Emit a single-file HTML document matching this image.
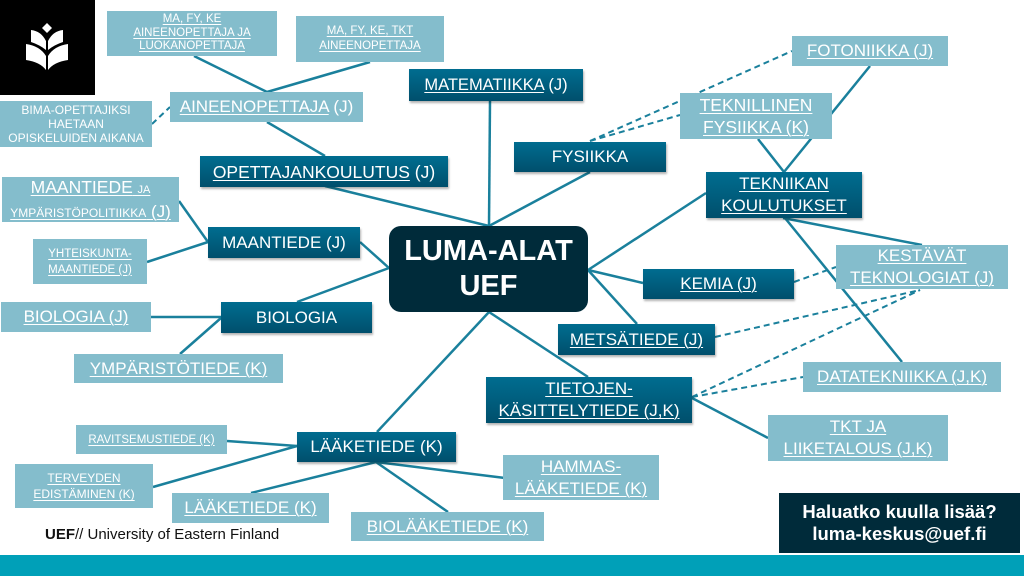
<!DOCTYPE html>
<html><head><meta charset="utf-8">
<style>
*{margin:0;padding:0;box-sizing:border-box}
html,body{width:1024px;height:576px;overflow:hidden;background:#fff}
body{position:relative;font-family:"Liberation Sans",sans-serif}
.b{position:absolute;display:flex;align-items:center;justify-content:center;text-align:center;color:#fff;font-size:17px;line-height:22px;white-space:nowrap}
.L{background:#84bdcc}
.D{background:linear-gradient(#006d90,#004f6c);box-shadow:1px 2px 2px rgba(0,0,0,0.3)}
.u{text-decoration:underline;text-decoration-thickness:1px;text-underline-offset:2px}
.s{font-size:11.5px;line-height:14px}
svg{position:absolute;left:0;top:0}
</style></head><body>
<svg width="1024" height="576">
<g stroke="#1a809c" stroke-width="2.5" fill="none">
<line x1="194" y1="56" x2="267" y2="92"/>
<line x1="370" y1="62" x2="267" y2="92"/>
<line x1="267" y1="122" x2="325" y2="156"/>
<line x1="325" y1="186" x2="489" y2="226"/>
<line x1="490" y1="101" x2="489" y2="226"/>
<line x1="590" y1="172" x2="489" y2="226"/>
<line x1="706" y1="193" x2="588" y2="270"/>
<line x1="784" y1="172" x2="758" y2="139"/>
<line x1="784" y1="172" x2="870" y2="66"/>
<line x1="783" y1="218" x2="922" y2="245"/>
<line x1="785" y1="218" x2="902" y2="362"/>
<line x1="588" y1="270" x2="643" y2="283"/>
<line x1="588" y1="270" x2="637" y2="324"/>
<line x1="489" y1="312" x2="588" y2="377"/>
<line x1="692" y1="398" x2="768" y2="438"/>
<line x1="179" y1="201" x2="208" y2="242"/>
<line x1="147" y1="262" x2="208" y2="242"/>
<line x1="360" y1="242" x2="389" y2="268"/>
<line x1="297" y1="302" x2="389" y2="268"/>
<line x1="151" y1="317" x2="221" y2="317"/>
<line x1="180" y1="354" x2="221" y2="318"/>
<line x1="489" y1="312" x2="377" y2="432"/>
<line x1="227" y1="441" x2="297" y2="446"/>
<line x1="153" y1="487" x2="297" y2="446"/>
<line x1="376" y1="462" x2="251" y2="493"/>
<line x1="376" y1="462" x2="448" y2="512"/>
<line x1="376" y1="462" x2="505" y2="478"/>
</g>
<g stroke="#1a809c" stroke-width="2" fill="none" stroke-dasharray="6,4">
<line x1="152" y1="124" x2="170" y2="107"/>
<line x1="590" y1="141" x2="792" y2="51"/>
<line x1="590" y1="141" x2="680" y2="115"/>
<line x1="794" y1="282" x2="836" y2="267"/>
<line x1="715" y1="337" x2="920" y2="290"/>
<line x1="692" y1="397" x2="920" y2="290"/>
<line x1="692" y1="397" x2="803" y2="377"/>
</g>
</svg>

<!-- logo -->
<svg width="95" height="95" style="left:0;top:0">
<rect width="95" height="95" fill="#000"/>
<g fill="#fff">
<path d="M47,23 L52,28 L47,33 L42,28 Z"/>
<path d="M31,30 Q41,31 46,41 L46,50 Q40,45 31,42 Z"/>
<path d="M63,30 Q53,31 48,41 L48,50 Q54,45 63,42 Z"/>
<path d="M26,44 Q40,46 46,56 L46,70 Q40,62 26,60 Z"/>
<path d="M68,44 Q54,46 48,56 L48,70 Q54,62 68,60 Z"/>
</g>
</svg>

<div class="b L s" style="left:107px;top:11px;width:170px;height:45px;font-size:11.5px;line-height:13.5px"><span class="u">MA, FY, KE<br>AINEENOPETTAJA JA<br>LUOKANOPETTAJA</span></div>
<div class="b L s" style="left:296px;top:16px;width:148px;height:46px;line-height:15px"><span class="u">MA, FY, KE, TKT<br>AINEENOPETTAJA</span></div>
<div class="b L" style="left:170px;top:92px;width:193px;height:30px"><span><span class="u">AINEENOPETTAJA</span> (J)</span></div>
<div class="b L" style="left:0;top:101px;width:152px;height:46px;font-size:12px;line-height:14px">BIMA-OPETTAJIKSI<br>HAETAAN<br>OPISKELUIDEN AIKANA</div>
<div class="b D" style="left:200px;top:156px;width:248px;height:31px;font-size:17.5px"><span><span class="u">OPETTAJANKOULUTUS</span> (J)</span></div>
<div class="b D" style="left:409px;top:69px;width:174px;height:32px;font-size:16.5px"><span><span class="u">MATEMATIIKKA</span> (J)</span></div>
<div class="b D" style="left:514px;top:142px;width:152px;height:30px">FYSIIKKA</div>
<div class="b L" style="left:792px;top:36px;width:156px;height:30px"><span class="u">FOTONIIKKA (J)</span></div>
<div class="b L" style="left:680px;top:93px;width:152px;height:46px;font-size:17.5px"><span class="u">TEKNILLINEN<br>FYSIIKKA (K)</span></div>
<div class="b D" style="left:706px;top:172px;width:156px;height:46px"><span class="u">TEKNIIKAN<br>KOULUTUKSET</span></div>

<div class="b L" style="left:2px;top:177px;width:177px;height:45px;line-height:22px"><span class="u"><span style="font-size:17.5px">MAANTIEDE</span> <span style="font-size:11px">JA</span><br><span style="font-size:12px">YMPÄRISTÖPOLITIIKKA</span> <span style="font-size:17px">(J)</span></span></div>
<div class="b L s" style="left:33px;top:239px;width:114px;height:45px;line-height:16px"><span class="u">YHTEISKUNTA-<br>MAANTIEDE (J)</span></div>
<div class="b D" style="left:208px;top:227px;width:152px;height:31px">MAANTIEDE (J)</div>
<div class="b L" style="left:1px;top:302px;width:150px;height:30px"><span class="u">BIOLOGIA (J)</span></div>
<div class="b D" style="left:221px;top:302px;width:151px;height:31px">BIOLOGIA</div>
<div class="b L" style="left:74px;top:354px;width:209px;height:29px"><span class="u">YMPÄRISTÖTIEDE (K)</span></div>

<div class="b" style="left:389px;top:226px;width:199px;height:86px;background:#002b3a;border-radius:12px;font-weight:bold;font-size:29px;line-height:35px">LUMA-ALAT<br>UEF</div>

<div class="b D" style="left:643px;top:269px;width:151px;height:30px"><span class="u">KEMIA (J)</span></div>
<div class="b L" style="left:836px;top:245px;width:172px;height:44px"><span class="u">KESTÄVÄT<br>TEKNOLOGIAT (J)</span></div>
<div class="b D" style="left:558px;top:324px;width:157px;height:31px"><span class="u">METSÄTIEDE (J)</span></div>
<div class="b D" style="left:486px;top:377px;width:206px;height:46px"><span class="u">TIETOJEN-<br>KÄSITTELYTIEDE (J,K)</span></div>
<div class="b L" style="left:803px;top:362px;width:198px;height:30px"><span class="u">DATATEKNIIKKA (J,K)</span></div>
<div class="b L" style="left:768px;top:415px;width:180px;height:46px"><span class="u">TKT JA<br>LIIKETALOUS (J,K)</span></div>

<div class="b L s" style="left:76px;top:425px;width:151px;height:29px"><span class="u">RAVITSEMUSTIEDE (K)</span></div>
<div class="b L" style="left:15px;top:464px;width:138px;height:44px;font-size:12px;line-height:16px"><span class="u">TERVEYDEN<br>EDISTÄMINEN (K)</span></div>
<div class="b D" style="left:297px;top:432px;width:159px;height:30px">LÄÄKETIEDE (K)</div>
<div class="b L" style="left:172px;top:493px;width:157px;height:30px"><span class="u">LÄÄKETIEDE (K)</span></div>
<div class="b L" style="left:351px;top:512px;width:193px;height:29px"><span class="u">BIOLÄÄKETIEDE (K)</span></div>
<div class="b L" style="left:503px;top:455px;width:156px;height:45px"><span class="u">HAMMAS-<br>LÄÄKETIEDE (K)</span></div>

<div class="b" style="left:779px;top:493px;width:241px;height:60px;background:#002b3a;font-weight:bold;font-size:18.5px;line-height:22px">Haluatko kuulla lisää?<br>luma-keskus@uef.fi</div>

<div style="position:absolute;left:45px;top:526px;font-size:15px;line-height:18px;color:#111;white-space:nowrap"><b>UEF</b>// University of Eastern Finland</div>

<div style="position:absolute;left:0;top:555px;width:1024px;height:21px;background:#00a0b8"></div>
</body></html>
